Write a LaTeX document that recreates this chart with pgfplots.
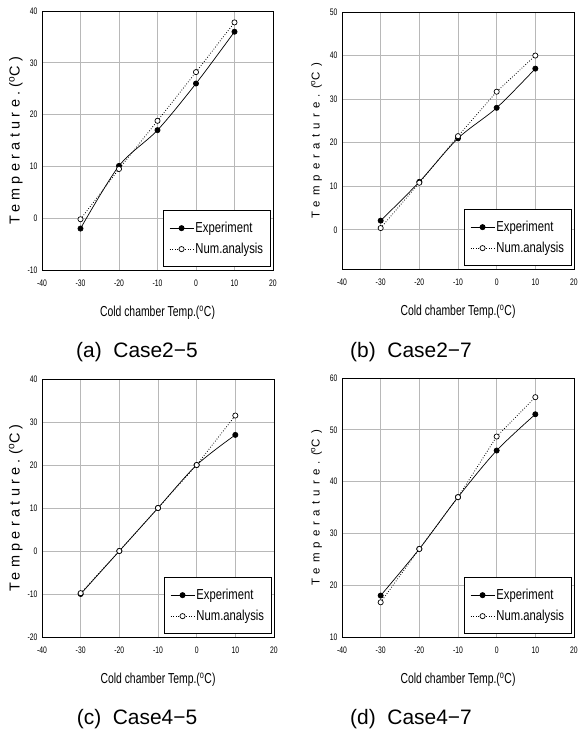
\documentclass[border=0pt]{standalone}
\usepackage{fontspec}
\setmainfont{Liberation Sans}
\newfontfamily\narrow[FakeStretch=0.72]{Liberation Sans}
\newfontfamily\legfont[FakeStretch=0.78]{Liberation Sans}
\newfontfamily\ylabA[LetterSpace=30]{Liberation Sans}
\newfontfamily\ylabB[LetterSpace=45]{Liberation Sans}
\usepackage{pgfplots}
\pgfplotsset{compat=1.18}
\pgfplotsset{
  panel/.style={
    scale only axis, anchor=south west,
    xmin=-40, xmax=20, xtick={-40,-30,...,20},
    grid=major, major grid style={draw=black!28, line width=0.7bp},
    major tick length=0pt,
    axis line style={line width=0.8bp},
    /pgf/number format/assume math mode=true,
    tick label style={font=\narrow\fontsize{9.5}{10}\selectfont},
    xticklabel style={yshift=-6bp},
    yticklabel style={xshift=-1bp},
    xlabel={Cold chamber Temp.(\textsuperscript{o}C)},
    xlabel style={font=\narrow\fontsize{14.5}{15}\selectfont, at={(axis description cs:0.5,0)}, anchor=center, yshift=-43bp},
    legend style={at={(rel axis cs:1,0)}, anchor=south east, xshift=-2bp, yshift=3bp,
      draw=black, line width=0.8bp, fill=white, inner xsep=6bp, inner ysep=10bp,
      font=\legfont\fontsize{14.5}{15}\selectfont, row sep=6bp,
      nodes={inner sep=1.5bp}},
    legend cell align=left,
    legend image code/.code={\draw[mark repeat=2,mark phase=2,#1] plot coordinates {(0bp,0bp)(12bp,0bp)(24bp,0bp)};},
  },
  expe/.style={black, line width=0.7bp, smooth, mark=*, mark size=2.6bp, mark options={solid, fill=black}},
  numa/.style={black, line width=0.8bp, dash pattern=on 0.8bp off 1.8bp, mark=*, mark size=2.6bp, mark options={solid, fill=white, line width=0.7bp}},
}
\begin{document}
\begin{tikzpicture}
% (a)
\begin{axis}[panel, at={(42bp,463bp)}, width=231bp, height=259bp,
  ymin=-10, ymax=40, ytick={-10,0,...,40},
  ylabel style={at={(axis description cs:-0.113,0.5)}, anchor=center},
  ylabel={\ylabA\fontsize{14.5}{15}\selectfont Temperature.(\textsuperscript{o}C)}]
\addplot[expe] coordinates {(-30,-2) (-20,10.1) (-10,17) (0,26) (10,36)};
\addplot[numa] coordinates {(-30,-0.2) (-20,9.5) (-10,18.8) (0,28.2) (10,37.8)};
\legend{Experiment, Num.analysis}
\end{axis}
% (b)
\begin{axis}[panel, at={(342bp,464bp)}, width=232bp, height=257bp,
  ymin=-9, ymax=50, ytick={0,10,...,50},
  ylabel style={at={(axis description cs:-0.11,0.5)}, anchor=center},
  ylabel={\ylabB\fontsize{11.5}{12}\selectfont Temperature.(\textsuperscript{o}C)}]
\addplot[expe] coordinates {(-30,2.1) (-20,11) (-10,21) (0,28) (10,37)};
\addplot[numa] coordinates {(-30,0.4) (-20,10.8) (-10,21.5) (0,31.7) (10,40)};
\legend{Experiment, Num.analysis}
\end{axis}
% (c)
\begin{axis}[panel, at={(42bp,96bp)}, width=232bp, height=258bp,
  ymin=-20, ymax=40, ytick={-20,-10,...,40},
  ylabel style={at={(axis description cs:-0.113,0.5)}, anchor=center},
  ylabel={\ylabA\fontsize{14.5}{15}\selectfont Temperature.(\textsuperscript{o}C)}]
\addplot[expe] coordinates {(-30,-10) (-20,0) (-10,10) (0,20) (10,27)};
\addplot[numa] coordinates {(-30,-9.8) (-20,0) (-10,10) (0,20) (10,31.5)};
\legend{Experiment, Num.analysis}
\end{axis}
% (d)
\begin{axis}[panel, at={(342bp,96bp)}, width=232bp, height=259bp,
  ymin=10, ymax=60, ytick={10,20,...,60},
  ylabel style={at={(axis description cs:-0.11,0.5)}, anchor=center},
  ylabel={\ylabB\fontsize{11.5}{12}\selectfont Temperature.(\textsuperscript{o}C)}]
\addplot[expe] coordinates {(-30,18) (-20,27) (-10,37) (0,46) (10,53)};
\addplot[numa] coordinates {(-30,16.7) (-20,27) (-10,37) (0,48.7) (10,56.3)};
\legend{Experiment, Num.analysis}
\end{axis}
\node[font=\fontsize{21}{22}\selectfont] at (137bp,381bp) {(a)\ \ Case2−5};
\node[font=\fontsize{21}{22}\selectfont] at (411bp,381bp) {(b)\ \ Case2−7};
\node[font=\fontsize{21}{22}\selectfont] at (137bp,14bp) {(c)\ \ Case4−5};
\node[font=\fontsize{21}{22}\selectfont] at (411bp,14bp) {(d)\ \ Case4−7};
\pgfresetboundingbox
\path[use as bounding box] (0,0) rectangle (579bp,733bp);
\end{tikzpicture}
\end{document}
